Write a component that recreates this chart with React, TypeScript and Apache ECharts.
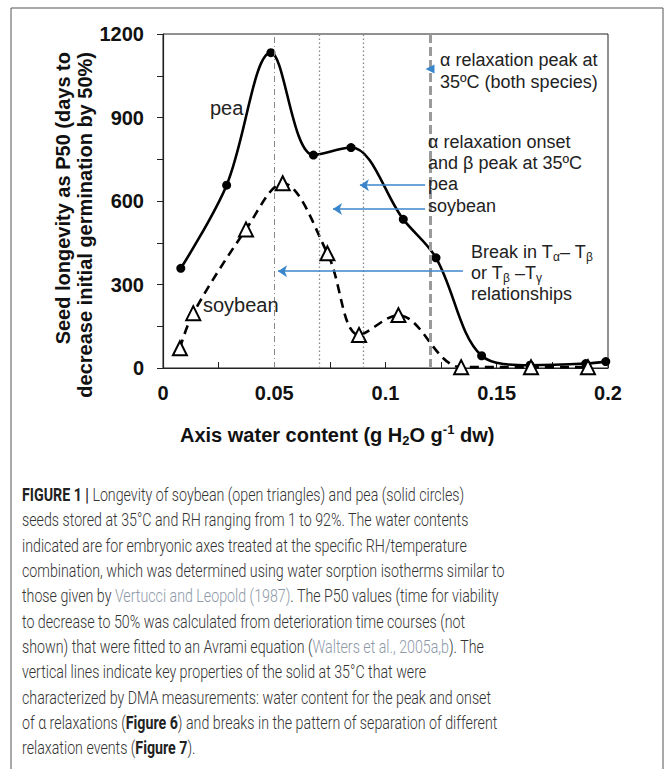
import React, { useEffect, useRef } from "react";
import * as echarts from "echarts";

// ---- data ----
const peaWater = [0.008, 0.0286, 0.0485, 0.0676, 0.0845, 0.108, 0.1227, 0.1432, 0.165, 0.19, 0.199];
const peaP50 = [358, 657, 1133, 765, 792, 534, 396, 44, 10, 16, 23];
const soyWater = [0.0076, 0.0136, 0.0373, 0.0538, 0.0739, 0.0881, 0.1058, 0.134, 0.1654, 0.191];
const soyP50 = [71, 197, 498, 664, 412, 119, 190, 3, 3, 3];

const xMin = 0;
const xMax = 0.2;
const xStep = 0.025;
const xLabelEvery = 0.05;
const yMin = 0;
const yMax = 1200;
const yStep = 150;
const yLabelEvery = 300;

// vertical reference lines (water content)
const alphaOnsetSoy = 0.075;
const alphaOnsetPea = 0.088;
const breakLine = 0.05;
const alphaPeak = 0.117;

// annotation arrows [x, y] in data units
const arrowPea = { from: [0.1178, 657], to: [0.0885, 657] };
const arrowSoy = { from: [0.1178, 571], to: [0.0764, 571] };
const arrowBreak = { from: [0.1348, 348], to: [0.0517, 348] };
const arrowPeakHead = [0.12, 1074];

const captionLines = [
  "{b|FIGURE 1 |} Longevity of soybean (open triangles) and pea (solid circles)",
  "seeds stored at 35°C and RH ranging from 1 to 92%. The water contents",
  "indicated are for embryonic axes treated at the specific RH/temperature",
  "combination, which was determined using water sorption isotherms similar to",
  "those given by {l|Vertucci and Leopold (1987)}. The P50 values (time for viability",
  "to decrease to 50% was calculated from deterioration time courses (not",
  "shown) that were fitted to an Avrami equation ({l|Walters et al., 2005a,b}). The",
  "vertical lines indicate key properties of the solid at 35°C that were",
  "characterized by DMA measurements: water content for the peak and onset",
  "of α relaxations ({b|Figure 6}) and breaks in the pattern of separation of different",
  "relaxation events ({b|Figure 7}).",
];

const FONT = "'Liberation Sans', Arial, Helvetica, sans-serif";
const CAP_FONT = "Roboto, 'Liberation Sans', sans-serif";
const BLUE = "#3a86cc";

export default function App() {
  const ref = useRef<HTMLDivElement>(null);

  useEffect(() => {
    document.body.style.margin = "0";
    if (!ref.current) return;
    const chart = echarts.init(ref.current, undefined, { renderer: "svg" });

    const annText = (text: string, x: number, y: number, extra: any = {}) => ({
      type: "text",
      x,
      y,
      z: 50,
      style: {
        text,
        fill: "#222",
        fontSize: 18,
        fontFamily: FONT,
        textAlign: "left",
        textVerticalAlign: "middle",
        rich: {
          s: { fontSize: 12, fontFamily: FONT, fill: "#222", verticalAlign: "bottom", lineHeight: 22 },
          m: { fontSize: 18, fontFamily: FONT, fill: "#222", lineHeight: 22 },
        },
        ...extra,
      },
    });

    const graphics: any[] = [
      {
        type: "rect",
        shape: { x: 11, y: 8, width: 652, height: 800 },
        style: { fill: "none", stroke: "#555", lineWidth: 1 },
        z: 0,
        silent: true,
      },
      // y-axis title
      {
        type: "text",
        x: 74,
        y: 52,
        rotation: Math.PI / 2,
        style: {
          text: "Seed longevity as P50 (days to\ndecrease initial germination by 50%)",
          fill: "#111",
          fontSize: 20,
          fontWeight: "bold",
          fontFamily: FONT,
          lineHeight: 22,
          textAlign: "right",
          textVerticalAlign: "middle",
        },
      },
      // x-axis title
      {
        type: "text",
        x: 180,
        y: 435,
        style: {
          text: "{t|Axis water content (g H}{s|2}{t|O g}{p|-1}{t| dw)}",
          fill: "#111",
          textAlign: "left",
          textVerticalAlign: "middle",
          rich: {
            t: { fontSize: 20, fontWeight: "bold", fontFamily: FONT, fill: "#111", lineHeight: 24 },
            s: { fontSize: 13, fontWeight: "bold", fontFamily: FONT, fill: "#111", verticalAlign: "bottom" },
            p: { fontSize: 13, fontWeight: "bold", fontFamily: FONT, fill: "#111", verticalAlign: "top" },
          },
        },
      },
      // series labels in the plot
      annText("pea", 210, 108, { fontSize: 20 }),
      annText("soybean", 203, 305, { fontSize: 20 }),
      // annotation texts
      annText("α relaxation peak at", 440, 60),
      annText("35ºC (both species)", 440, 82),
      annText("α relaxation onset", 428, 142),
      annText("and β peak at 35ºC", 428, 163),
      annText("pea", 428, 184),
      annText("soybean", 428, 206),
      annText("{m|Break in T}{s|α}{m|– T}{s|β}", 471, 252),
      annText("{m|or T}{s|β}{m| –T}{s|γ}", 471, 273),
      annText("relationships", 471, 294),
    ];

    captionLines.forEach((line, i) => {
      graphics.push({
        type: "text",
        x: 22,
        y: 495 + i * 25.3,
        scaleX: 0.79,
        style: {
          text: line,
          fill: "#333",
          fontSize: 18,
          fontWeight: 300,
          fontFamily: CAP_FONT,
          textAlign: "left",
          textVerticalAlign: "middle",
          rich: {
            b: { fontSize: 18, fontWeight: "bold", fontFamily: CAP_FONT, fill: "#222" },
            l: { fontSize: 18, fontWeight: 300, fontFamily: CAP_FONT, fill: "#8e99a8" },
          },
        },
      });
    });

    const arrowLine = (a: { from: number[]; to: number[] }) => [
      { coord: a.from },
      { coord: a.to },
    ];

    const option: any = {
      animation: false,
      backgroundColor: "#fff",
      grid: {
        left: 163,
        top: 34,
        width: 445,
        height: 334,
        show: true,
        borderColor: "#222",
        borderWidth: 1,
        containLabel: false,
        outerBoundsMode: "none",
      },
      xAxis: {
        type: "value",
        min: xMin,
        max: xMax,
        interval: xStep,
        axisLine: { show: true, onZero: false, lineStyle: { color: "#222", width: 1.2 } },
        axisTick: { show: true, inside: true, length: 6, lineStyle: { color: "#222" } },
        splitLine: { show: false },
        axisLabel: {
          margin: 15,
          color: "#111",
          fontSize: 20,
          fontWeight: "bold",
          fontFamily: FONT,
          formatter: (v: number) => {
            const r = Math.round(v * 1000);
            const e = Math.round(xLabelEvery * 1000);
            return r % e === 0 ? String(r / 1000) : "";
          },
        },
      },
      yAxis: {
        type: "value",
        min: yMin,
        max: yMax,
        interval: yStep,
        axisLine: { show: true, onZero: false, lineStyle: { color: "#222", width: 1.2 } },
        axisTick: { show: true, inside: false, length: 6, lineStyle: { color: "#222" } },
        splitLine: { show: false },
        axisLabel: {
          margin: 19,
          color: "#111",
          fontSize: 20,
          fontWeight: "bold",
          fontFamily: FONT,
          formatter: (v: number) => (Math.round(v) % yLabelEvery === 0 ? String(Math.round(v)) : ""),
        },
      },
      graphic: graphics,
      series: [
        {
          name: "guides",
          type: "line",
          data: peaWater.map((x, i) => [x, peaP50[i]]),
          symbol: "none",
          lineStyle: { opacity: 0 },
          silent: true,
          z: 1,
          markLine: {
            silent: true,
            symbol: ["none", "none"],
            label: { show: false },
            data: [
              { xAxis: breakLine, lineStyle: { color: "#888", width: 1, type: [6, 3, 1, 3] } },
              { xAxis: alphaOnsetSoy, lineStyle: { color: "#888", width: 1.3, type: [1.5, 2.5] } },
              { xAxis: alphaOnsetPea, lineStyle: { color: "#888", width: 1.3, type: [1.5, 2.5] } },
              { xAxis: alphaPeak, lineStyle: { color: "#9a9a9a", width: 3, type: [9, 4] } },
            ],
          },
        },
        {
          name: "arrows",
          type: "line",
          data: [],
          symbol: "none",
          silent: true,
          z: 2,
          markLine: {
            silent: true,
            symbol: ["none", "arrow"],
            symbolSize: 9,
            label: { show: false },
            lineStyle: { color: BLUE, width: 1.5, type: "solid" },
            data: [arrowLine(arrowPea), arrowLine(arrowSoy), arrowLine(arrowBreak)],
          },
          markPoint: {
            silent: true,
            symbol: "triangle",
            symbolSize: [9, 9],
            symbolRotate: 90,
            label: { show: false },
            itemStyle: { color: BLUE },
            data: [{ coord: arrowPeakHead }],
          },
        },
        {
          name: "pea",
          type: "line",
          data: peaWater.map((x, i) => [x, peaP50[i]]),
          smooth: 0.35,
          symbol: "circle",
          symbolSize: 9,
          showAllSymbol: true,
          itemStyle: { color: "#000" },
          lineStyle: { color: "#000", width: 2.6 },
          z: 3,
        },
        {
          name: "soybean",
          type: "line",
          data: soyWater.map((x, i) => [x, soyP50[i]]),
          smooth: 0.35,
          symbol: "triangle",
          symbolSize: 14,
          showAllSymbol: true,
          itemStyle: { color: "#fff", borderColor: "#000", borderWidth: 2 },
          lineStyle: { color: "#000", width: 2.6, type: [9, 6] },
          z: 4,
        },
      ],
    };

    chart.setOption(option);
    return () => chart.dispose();
  }, []);

  return <div ref={ref} style={{ width: 670, height: 769 }} />;
}
